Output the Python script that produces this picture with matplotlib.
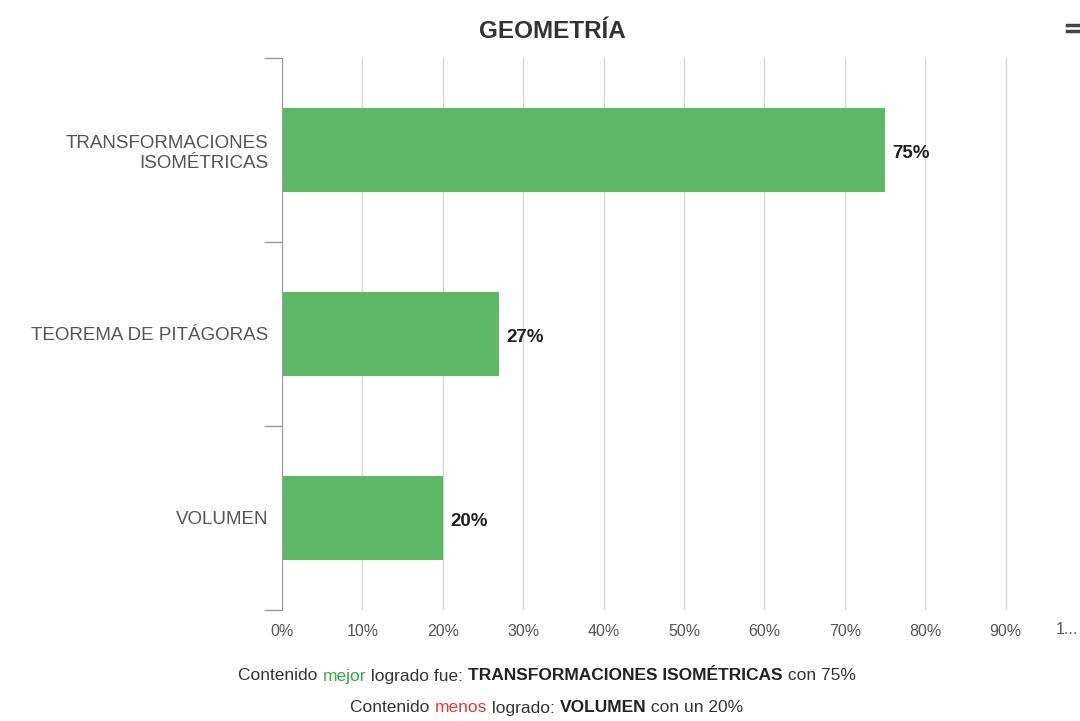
import matplotlib
matplotlib.use("Agg")
import matplotlib.pyplot as plt
from matplotlib.lines import Line2D

plt.rcParams["font.family"] = ["Liberation Sans", "DejaVu Sans"]

# Datos del gráfico
contenidos = ["TRANSFORMACIONES\nISOMÉTRICAS", "TEOREMA DE PITÁGORAS", "VOLUMEN"]
logro = [75, 27, 20]
ticks_x = [0, 10, 20, 30, 40, 50, 60, 70, 80, 90, 100]
etiquetas_x = ["0%", "10%", "20%", "30%", "40%", "50%", "60%", "70%", "80%", "90%", ""]

VERDE = "#5cb865"
GRIS_TXT = "#555555"

fig = plt.figure(figsize=(10.8, 7.21), dpi=100)
ax = fig.add_axes([0.2611, 0.1540, 1.0057 - 0.2611, 0.9196 - 0.1540])

pos = list(range(len(contenidos)))
ax.barh(pos, logro, height=0.46, color=VERDE, zorder=3)
for p, v in zip(pos, logro):
    ax.text(v + 0.9, p + 0.02, f"{v}%", va="center", ha="left", fontsize=13.5,
            fontweight="bold", color="#222222", zorder=4)

ax.set_xlim(0, 100)
ax.set_ylim(len(contenidos) - 0.5, -0.5)
ax.set_xticks(ticks_x)
ax.set_xticklabels(etiquetas_x, fontsize=11.5, color=GRIS_TXT)
ax.set_yticks(pos)
ax.set_yticklabels(contenidos, fontsize=13.5, color=GRIS_TXT)
for lbl in ax.get_yticklabels():
    lbl.set_linespacing(1.25)
ax.tick_params(axis="y", length=0, pad=10)
ax.tick_params(axis="x", length=0, pad=10)

# marcas entre categorías en el eje izquierdo
ax.set_yticks([-0.5, 0.5, 1.5, 2.5], minor=True)
ax.tick_params(axis="y", which="minor", length=13, color="#999999", width=1)

ax.grid(axis="x", color="#d6d6d6", linewidth=1, zorder=0)
for s in ["top", "right", "bottom"]:
    ax.spines[s].set_visible(False)
ax.spines["left"].set_color("#999999")
ax.spines["left"].set_zorder(5)

fig.text(552 / 1080, 1 - 31 / 721, "GEOMETRÍA", ha="center", va="center",
         fontsize=17.5, fontweight="bold", color="#333333")
fig.text(1056 / 1080, 1 - 630 / 721, "1...", ha="left", va="center",
         fontsize=11.5, color=GRIS_TXT)

# icono de menú arriba a la derecha
for yy in (25, 31):
    fig.add_artist(Line2D([1067 / 1080, 1.0], [1 - yy / 721] * 2,
                          color="#444444", linewidth=2.5))


def texto_mixto(y, partes, size=12.5):
    """Dibuja una línea centrada compuesta de trozos con estilo distinto."""
    renderer = fig.canvas.get_renderer()
    objs = []
    for txt, color, peso in partes:
        t = fig.text(0, y, txt, ha="left", va="center", fontsize=size,
                     color=color, fontweight=peso)
        objs.append(t)
    anchos = [o.get_window_extent(renderer).width for o in objs]
    total = sum(anchos)
    x = (fig.bbox.width - total) / 2 + 7
    for o, w in zip(objs, anchos):
        o.set_x(x / fig.bbox.width)
        x += w


texto_mixto(1 - 676 / 721, [
    ("Contenido ", "#333333", "normal"),
    ("mejor", "#3aa845", "normal"),
    (" logrado fue: ", "#333333", "normal"),
    ("TRANSFORMACIONES ISOMÉTRICAS", "#222222", "bold"),
    (" con 75%", "#333333", "normal"),
])
texto_mixto(1 - 708 / 721, [
    ("Contenido ", "#333333", "normal"),
    ("menos", "#e53935", "normal"),
    (" logrado: ", "#333333", "normal"),
    ("VOLUMEN", "#222222", "bold"),
    (" con un 20%", "#333333", "normal"),
])

fig.savefig("out.png", dpi=100)
